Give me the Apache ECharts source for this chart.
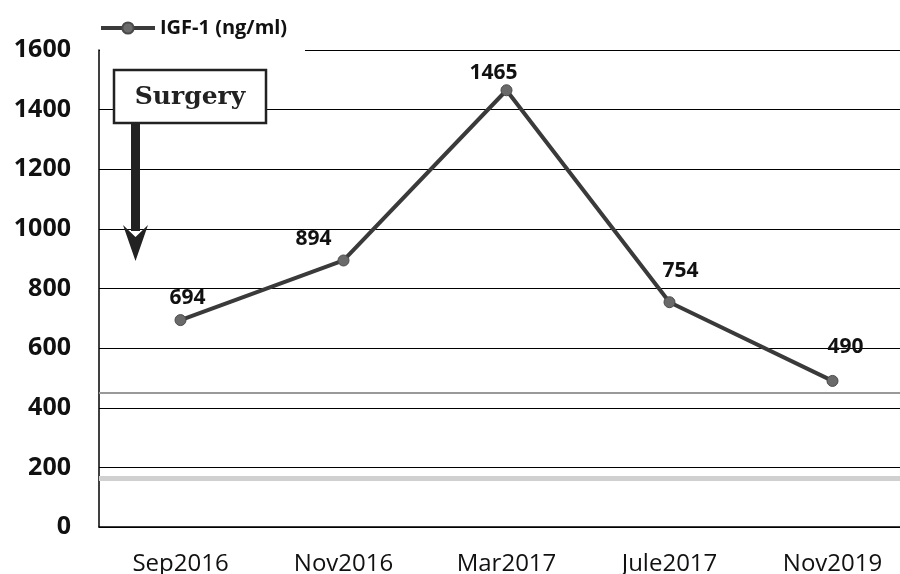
<!DOCTYPE html>
<html><head><meta charset="utf-8">
<script src="https://cdn.jsdelivr.net/npm/echarts@6/dist/echarts.min.js"></script>
<style>html,body{margin:0;padding:0;background:#fff}#c{width:900px;height:574px}</style>
</head><body><div id="c"></div>
<script>
var categories = ['Sep2016','Nov2016','Mar2017','Jule2017','Nov2019'];
var igf1 = [694, 894, 1465, 754, 490];
var yTicks = [0,200,400,600,800,1000,1200,1400,1600];
var refUpper = 450;
var refLower = 165;
var labelOffsets = [[7,-1],[-30,0],[-13,4],[11,-10],[13,-12]];

var chart = echarts.init(document.getElementById('c'));
chart.setOption({
  animation:false,
  backgroundColor:'#fff',
  grid:{left:99,width:815,top:50,bottom:47,containLabel:false,outerBoundsMode:'none'},
  legend:{
    left:94,top:13,itemWidth:54,itemHeight:14,itemGap:2,
    textStyle:{fontFamily:'Open Sans',fontWeight:'bold',fontSize:20,color:'#111'},
    lineStyle:{width:4,color:'#3a3a3a'},
    data:['IGF-1 (ng/ml)']
  },
  xAxis:{
    type:'category',data:categories,boundaryGap:true,
    axisLine:{lineStyle:{color:'#000',width:1.5}},
    axisTick:{show:false},
    axisLabel:{fontFamily:'Open Sans',fontSize:24,color:'#111',margin:25}
  },
  yAxis:{
    type:'value',min:0,max:1600,interval:200,
    axisLine:{show:true,lineStyle:{color:'#000',width:1.5}},
    axisTick:{show:false},
    splitLine:{lineStyle:{color:'#000',width:1}},
    axisLabel:{fontFamily:'Open Sans',fontWeight:'bold',fontSize:25,color:'#111',margin:28,
      formatter:function(v){return yTicks.indexOf(v)>=0?String(v):'';}}
  },
  series:[{
    name:'IGF-1 (ng/ml)',type:'line',data:igf1.map(function(v,i){
      return {value:v,label:{offset:labelOffsets[i]}};
    }),
    lineStyle:{color:'#3a3a3a',width:4},
    itemStyle:{color:'#6a6a6a',borderColor:'#4a4a4a',borderWidth:1},
    symbol:'circle',symbolSize:11,
    label:{show:true,position:'top',distance:5,fontFamily:'Open Sans',fontWeight:'bold',fontSize:21,color:'#111'},
    markLine:{
      silent:true,symbol:'none',label:{show:false},
      data:[
        {yAxis:refUpper,lineStyle:{color:'#999',width:2,type:'solid'}},
        {yAxis:refLower,lineStyle:{color:'#d0d0d0',width:5,type:'solid'}}
      ]
    },
    z:5
  }],
  graphic:[
    {type:'rect',shape:{x:100,y:46,width:205,height:8},style:{fill:'#fff'},z:10},
    {type:'rect',shape:{x:131,y:123,width:9,height:108},style:{fill:'#222'},z:10},
    {type:'polygon',shape:{points:[[123,225],[135.5,261],[148,225],[135.5,237]]},style:{fill:'#222'},z:10},
    {type:'rect',shape:{x:114,y:70,width:152,height:53},style:{fill:'#fff',stroke:'#222',lineWidth:2.5},z:11},
    {type:'text',x:190,y:97,style:{text:'Surgery',fill:'#222',font:'bold 25px "DejaVu Serif"',align:'center',verticalAlign:'middle'},z:12}
  ]
});
</script></body></html>
